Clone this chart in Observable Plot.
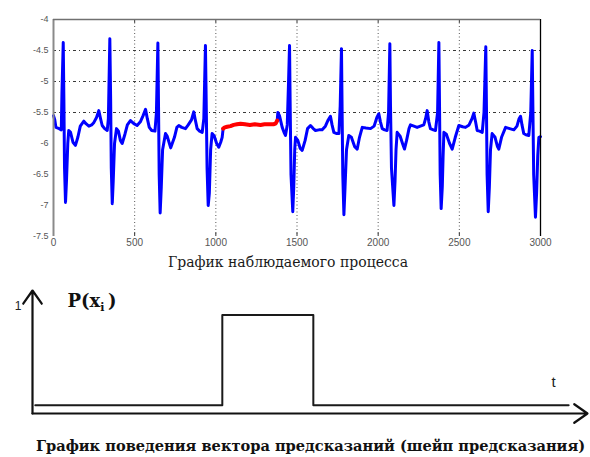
<!DOCTYPE html>
<html><head><meta charset="utf-8">
<script src="https://cdn.jsdelivr.net/npm/d3@7"></script>
<script src="https://cdn.jsdelivr.net/npm/@observablehq/plot@0.6"></script>
<style>
html,body{margin:0;padding:0;background:#fff;}
#root{position:relative;width:590px;height:457px;overflow:hidden;background:#fff;}
#topchart{position:absolute;left:0;top:0;}
#bottomchart{position:absolute;left:0;top:280px;}
#title{position:absolute;left:0;width:576px;top:254px;text-align:center;font-family:"DejaVu Serif",serif;font-size:14px;color:#1a1a1a;white-space:nowrap;}
#caption{position:absolute;left:0;width:621px;top:437px;text-align:center;font-family:"DejaVu Serif",serif;font-weight:bold;font-size:14.6px;color:#111;white-space:nowrap;}
</style>
</head><body>
<div id="root">
  <div id="topchart"></div>
  <div id="title"></div>
  <div id="bottomchart"></div>
  <div id="caption"></div>
</div>
<script>
// ---- Top chart: observed process ----
const xTicks = [0, 500, 1000, 1500, 2000, 2500, 3000];
const yTicks = [-4, -4.5, -5, -5.5, -6, -6.5, -7, -7.5];
const gridY = [-4.5, -5, -5.5];
const gridX = [500, 1000, 1500, 2000, 2500];

// blue signal, first part (before predicted segment)
const blueX1 = [0,8,15,35,48,52,60,64,68,74,80,88,94,105,120,135,150,165,187,200,218,235,249,265,279,290,300,315,331,338,347,352,356,362,368,376,388,400,412,423,440,455,474,495,515,535,552,567,578,590,605,625,634,643,647,651,657,664,672,690,700,722,745,760,772,790,813,830,850,864,872,885,900,916,926,936,941,946,953,960,968,977,990,1005,1018,1030,1039,1045];
const blueY1 = [-5.55,-5.62,-5.74,-5.76,-5.78,-5.2,-4.37,-5.3,-6.4,-6.95,-6.6,-6.0,-5.79,-5.82,-5.98,-6.03,-5.9,-5.72,-5.64,-5.68,-5.72,-5.70,-5.66,-5.58,-5.47,-5.6,-5.71,-5.76,-5.79,-5.6,-4.31,-5.3,-6.4,-6.97,-6.6,-6.0,-5.76,-5.8,-5.95,-6.0,-5.85,-5.7,-5.63,-5.68,-5.71,-5.65,-5.55,-5.45,-5.6,-5.74,-5.79,-5.8,-5.5,-4.38,-5.4,-6.5,-7.12,-6.7,-6.1,-5.84,-5.88,-6.07,-5.9,-5.74,-5.71,-5.74,-5.76,-5.7,-5.62,-5.49,-5.6,-5.76,-5.8,-5.82,-5.6,-4.42,-5.4,-6.4,-7.0,-6.8,-6.1,-5.84,-5.88,-6.0,-6.06,-5.98,-5.9,-5.76];

// red predicted segment
const redX = [1045,1055,1070,1090,1110,1130,1152,1180,1210,1240,1275,1300,1330,1355,1368,1378];
const redY = [-5.76,-5.74,-5.73,-5.72,-5.70,-5.69,-5.68,-5.69,-5.70,-5.69,-5.70,-5.69,-5.69,-5.69,-5.68,-5.63];

// blue signal, second part (after predicted segment)
const blueX2 = [1378,1382,1392,1409,1420,1429,1440,1448,1454,1458,1463,1474,1480,1486,1491,1505,1520,1532,1550,1565,1583,1600,1614,1635,1655,1675,1692,1706,1716,1727,1745,1758,1766,1774,1778,1782,1789,1796,1805,1819,1835,1855,1871,1885,1902,1925,1953,1975,1992,2004,2014,2025,2040,2055,2064,2072,2076,2082,2097,2104,2110,2117,2135,2150,2162,2175,2190,2199,2220,2240,2260,2281,2292,2302,2312,2322,2340,2353,2366,2374,2378,2382,2388,2395,2400,2405,2420,2440,2456,2475,2497,2520,2538,2560,2578,2589,2600,2610,2625,2641,2652,2663,2667,2671,2678,2685,2692,2702,2720,2735,2743,2760,2785,2810,2836,2855,2868,2877,2886,2897,2910,2928,2940,2949,2953,2958,2969,2976,2983,2990,3000];
const blueY2 = [-5.63,-5.50,-5.55,-5.74,-5.82,-5.87,-5.7,-5.0,-4.42,-5.4,-6.5,-7.1,-6.7,-6.1,-5.90,-5.95,-6.08,-6.11,-5.95,-5.76,-5.71,-5.76,-5.79,-5.78,-5.78,-5.72,-5.62,-5.56,-5.7,-5.82,-5.84,-5.84,-5.4,-4.47,-5.5,-6.5,-7.15,-6.7,-6.1,-5.87,-5.9,-6.05,-6.09,-5.9,-5.74,-5.75,-5.76,-5.72,-5.58,-5.52,-5.65,-5.76,-5.78,-5.79,-5.5,-4.39,-5.4,-6.4,-7.0,-6.6,-6.1,-5.82,-5.88,-6.0,-6.09,-5.95,-5.76,-5.70,-5.72,-5.74,-5.72,-5.70,-5.6,-5.47,-5.65,-5.76,-5.78,-5.79,-5.5,-4.37,-5.4,-6.5,-7.05,-6.7,-6.2,-5.82,-5.85,-6.0,-6.09,-5.9,-5.71,-5.73,-5.74,-5.7,-5.6,-5.51,-5.65,-5.79,-5.8,-5.82,-5.5,-4.44,-5.4,-6.5,-7.1,-6.7,-6.1,-5.84,-5.9,-6.05,-6.09,-5.9,-5.74,-5.76,-5.78,-5.72,-5.6,-5.56,-5.7,-5.84,-5.86,-5.87,-5.5,-4.50,-5.4,-6.5,-7.19,-6.8,-6.2,-5.90,-5.89];

const titleText = "График наблюдаемого процесса";

// ---- Bottom chart: prediction vector shape ----
const stepT = [0.5, 34.2, 34.2, 50.6, 50.6, 96.6];
const stepP = [0, 0, 1, 1, 0, 0];
const captionText = "График поведения вектора предсказаний (шейп предсказания)";

const blueData = [
  ...blueX1.map((x, i) => ({x, y: blueY1[i], seg: 1})),
  ...blueX2.map((x, i) => ({x, y: blueY2[i], seg: 2}))
];
const redData = redX.map((x, i) => ({x, y: redY[i]}));

const topChart = Plot.plot({
  width: 590, height: 250,
  marginLeft: 53, marginRight: 50, marginTop: 19, marginBottom: 14,
  x: {domain: [0, 3000]},
  y: {domain: [-7.5, -4]},
  style: {fontFamily: "'Liberation Sans', Arial, sans-serif", fontSize: "9px", color: "#555", background: "transparent", overflow: "visible"},
  marks: [
    Plot.ruleY(gridY, {stroke: "#222", strokeWidth: 0.9, strokeDasharray: "3,3,1,3"}),
    Plot.ruleX(gridX, {stroke: "#444", strokeWidth: 0.9, strokeDasharray: "1,2.5"}),
    Plot.ruleX(xTicks, {x: d => d, y1: -4, y2: -4.06, stroke: "#333"}),
    Plot.ruleX(xTicks, {x: d => d, y1: -7.5, y2: -7.44, stroke: "#333"}),
    Plot.line(blueData, {x: "x", y: "y", z: "seg", stroke: "#0000ff", strokeWidth: 3, strokeLinejoin: "round", strokeLinecap: "round", curve: "linear"}),
    Plot.line(redData, {x: "x", y: "y", stroke: "#ff0000", strokeWidth: 4, strokeLinejoin: "round", strokeLinecap: "round"}),
    Plot.ruleX([0], {stroke: "#8a8a8a", strokeWidth: 2}),
    Plot.ruleX([3000], {stroke: "#000", strokeWidth: 1.3}),
    Plot.ruleY([-4], {stroke: "#707070", strokeWidth: 1.4}),
    Plot.axisX({ticks: xTicks, tickSize: 0, tickPadding: 2, label: null, fontSize: 10, tickFormat: d => String(d)}),
    Plot.axisY({ticks: yTicks, tickSize: 0, tickPadding: 5, label: null, tickFormat: d => String(d)})
  ]
});
document.getElementById("topchart").appendChild(topChart);
document.getElementById("title").textContent = titleText;

const labelsSerif = [
  {t: 6.3, p: 1.155, text: "P(x"},
  {t: 13.6, p: 1.155, text: ")"}
];
const labelSub = [{t: 12.2, p: 1.085, text: "i"}];
const labelT = [{t: 93.9, p: 0.26, text: "t"}];
const labelOne = [{t: -2.6, p: 1.10, text: "1"}];

const bottomChart = Plot.plot({
  width: 590, height: 145,
  marginLeft: 32, marginRight: 3, marginTop: 10, marginBottom: 12,
  x: {domain: [0, 100], axis: null},
  y: {domain: [-0.09, 1.27], axis: null},
  style: {background: "transparent", overflow: "visible"},
  marks: [
    Plot.line(stepT.map((t, i) => ({t, p: stepP[i]})), {x: "t", y: "p", stroke: "#1a1a1a", strokeWidth: 2}),
    Plot.arrow([{a: 0, b: -0.09, c: 100, d: -0.09}], {x1: "a", y1: "b", x2: "c", y2: "d", stroke: "#111", strokeWidth: 2.2, headLength: 11, headAngle: 70}),
    Plot.arrow([{a: 0, b: -0.09, c: 0, d: 1.27}], {x1: "a", y1: "b", x2: "c", y2: "d", stroke: "#111", strokeWidth: 2.2, headLength: 11, headAngle: 70}),
    Plot.text(labelsSerif, {x: "t", y: "p", text: "text", textAnchor: "start", fontSize: 18, fontWeight: "bold", fontFamily: "'DejaVu Serif', serif", fill: "#111"}),
    Plot.text(labelSub, {x: "t", y: "p", text: "text", textAnchor: "start", fontSize: 11, fontWeight: "bold", fontFamily: "'DejaVu Serif', serif", fill: "#111"}),
    Plot.text(labelT, {x: "t", y: "p", text: "text", fontSize: 15, fontFamily: "'Liberation Sans', sans-serif", fill: "#222"}),
    Plot.text(labelOne, {x: "t", y: "p", text: "text", fontSize: 12, fontFamily: "'Liberation Sans', sans-serif", fill: "#222"})
  ]
});
document.getElementById("bottomchart").appendChild(bottomChart);
document.getElementById("caption").textContent = captionText;
</script>
</body></html>
